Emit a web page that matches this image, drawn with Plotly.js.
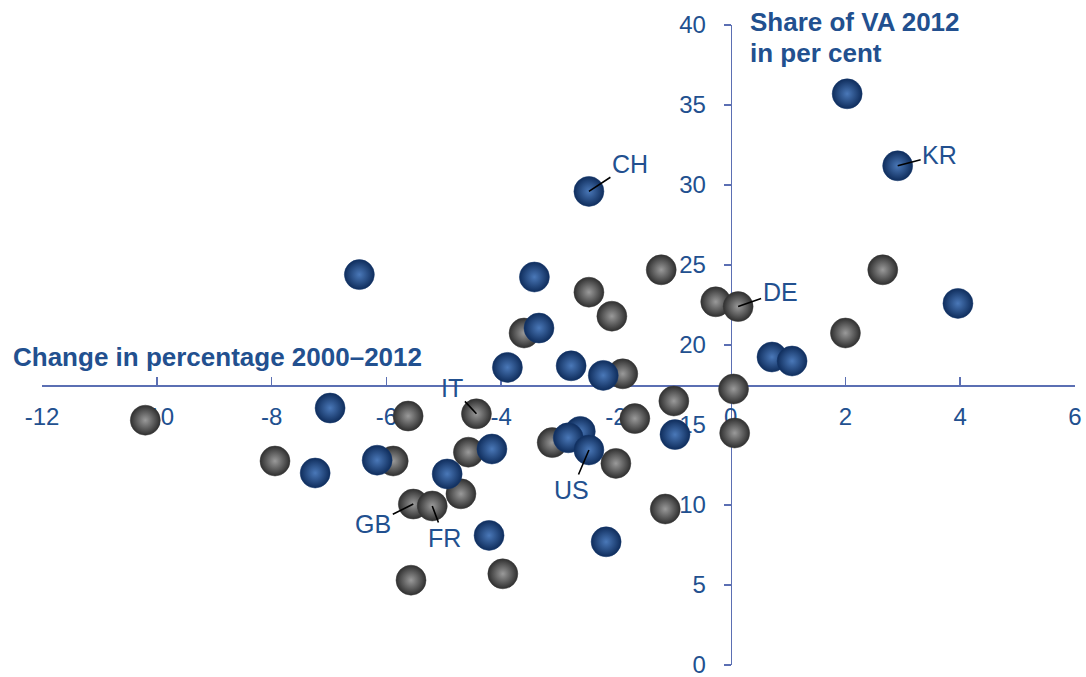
<!DOCTYPE html>
<html>
<head>
<meta charset="utf-8">
<script src="https://cdn.plot.ly/plotly-3.0.1.min.js"></script>
<style>html,body{margin:0;padding:0;background:#fff;}#chart{width:1086px;height:677px;}</style>
</head>
<body>
<div id="chart"></div>
<script>
// Change in percentage 2000–2012 (x) vs share of VA 2012 in per cent (y)
const grayX = [-10.2, -5.62, -4.43, -7.94, -5.88, -4.57, -4.70, -5.53, -5.20, -5.57, -3.97, -3.11, -2.00, -1.67, -0.99, -1.14, 0.07, 0.05, -3.60, -2.47, -2.07, -1.21, -0.26, 0.13, -1.88, 2.00, 2.65];
const grayY = [15.3, 15.56, 15.7, 12.75, 12.75, 13.3, 10.7, 10.06, 9.94, 5.3, 5.7, 13.9, 12.6, 15.4, 16.5, 9.75, 14.5, 17.25, 20.75, 23.3, 21.8, 24.7, 22.7, 22.4, 18.2, 20.75, 24.7];
const blueX = [2.03, 2.91, -2.47, 3.96, -6.47, -3.42, -3.34, -3.89, -2.78, -2.22, 0.72, 1.07, -6.98, -0.97, -6.16, -7.24, -4.94, -4.16, -2.62, -2.83, -2.47, -4.21, -2.17];
const blueY = [35.7, 31.2, 29.6, 22.6, 24.4, 24.25, 21.06, 18.6, 18.7, 18.1, 19.25, 19.0, 16.06, 14.4, 12.8, 12.0, 11.94, 13.5, 14.6, 14.2, 13.44, 8.1, 7.7];

const labelText = ['CH', 'KR', 'DE', 'IT', 'GB', 'FR', 'US'];
const labelX = [-2.47, 2.91, 0.13, -4.43, -5.53, -5.20, -2.47];
const labelY = [29.6, 31.2, 22.4, 15.7, 10.06, 9.94, 13.44];
const labelAX = [41, 42, 42, -24, -40, 12, -17];
const labelAY = [-27, -11, -15, -26, 20, 32, 40];

const xTicks = [-12, -10, -8, -6, -4, -2, 0, 2, 4, 6];
const yTicks = [0, 5, 10, 15, 20, 25, 30, 35, 40];

const textColor = '#22508f';
const axisColor = '#5b6fb3';
const FONT = 'Liberation Sans, Arial, sans-serif';

const traces = [
  {
    x: grayX, y: grayY, type: 'scatter', mode: 'markers', showlegend: false,
    marker: {size: 30, color: '#2f2f2f', gradient: {type: 'radial', color: '#9a9a9a'},
             line: {color: '#3a3a3a', width: 0.5}},
    hoverinfo: 'x+y'
  },
  {
    x: blueX, y: blueY, type: 'scatter', mode: 'markers', showlegend: false,
    marker: {size: 30, color: '#0f2d5c', gradient: {type: 'radial', color: '#4a78b8'},
             line: {color: '#15386e', width: 0.5}},
    hoverinfo: 'x+y'
  }
];

const annotations = labelText.map((t, i) => ({
  x: labelX[i], y: labelY[i], xref: 'x', yref: 'y',
  text: t, showarrow: true, arrowhead: 0, arrowwidth: 1.6, arrowcolor: '#000',
  ax: labelAX[i], ay: labelAY[i], standoff: 0,
  font: {family: FONT, size: 25, color: textColor}
}));

annotations.push({
  xref: 'paper', yref: 'paper', x: (11 - 42) / 1033, y: (665 - 357) / 640,
  xanchor: 'left', yanchor: 'middle', showarrow: false,
  text: '<b>Change in percentage 2000–2012</b>',
  font: {family: FONT, size: 26, color: textColor}
});
annotations.push({
  xref: 'paper', yref: 'paper', x: (748 - 42) / 1033, y: (665 - 22) / 640,
  xanchor: 'left', yanchor: 'middle', showarrow: false, align: 'left',
  text: '<b>Share of VA 2012</b>',
  font: {family: FONT, size: 26, color: textColor}
});
annotations.push({
  xref: 'paper', yref: 'paper', x: (748 - 42) / 1033, y: (665 - 53) / 640,
  xanchor: 'left', yanchor: 'middle', showarrow: false, align: 'left',
  text: '<b>in per cent</b>',
  font: {family: FONT, size: 26, color: textColor}
});

const layout = {
  width: 1086, height: 677,
  margin: {l: 42, r: 11, t: 25, b: 12, pad: 0},
  paper_bgcolor: '#ffffff', plot_bgcolor: '#ffffff',
  font: {family: FONT, size: 24, color: textColor},
  xaxis: {
    range: [-12, 6], tickvals: xTicks, ticktext: xTicks.map(String),
    showgrid: false, zeroline: false, showline: true, linecolor: axisColor, linewidth: 1.5,
    ticks: 'inside', ticklen: 8, tickcolor: axisColor, tickwidth: 1.5,
    anchor: 'free', position: 17.5 / 40, layer: 'below traces',
    ticklabeloverflow: 'allow',
    tickfont: {family: FONT, size: 24, color: textColor}, ticklabelstandoff: 10
  },
  yaxis: {
    range: [0, 40], tickvals: yTicks, ticktext: yTicks.map(String),
    showgrid: false, zeroline: false, showline: true, linecolor: axisColor, linewidth: 1.5,
    ticks: 'outside', ticklen: 7, tickcolor: axisColor, tickwidth: 1.5,
    anchor: 'free', position: 12 / 18, layer: 'below traces',
    ticklabeloverflow: 'allow',
    tickfont: {family: FONT, size: 24, color: textColor}, ticklabelstandoff: 13
  },
  annotations: annotations
};

Plotly.newPlot('chart', traces, layout, {displayModeBar: false, staticPlot: true});
</script>
</body>
</html>
